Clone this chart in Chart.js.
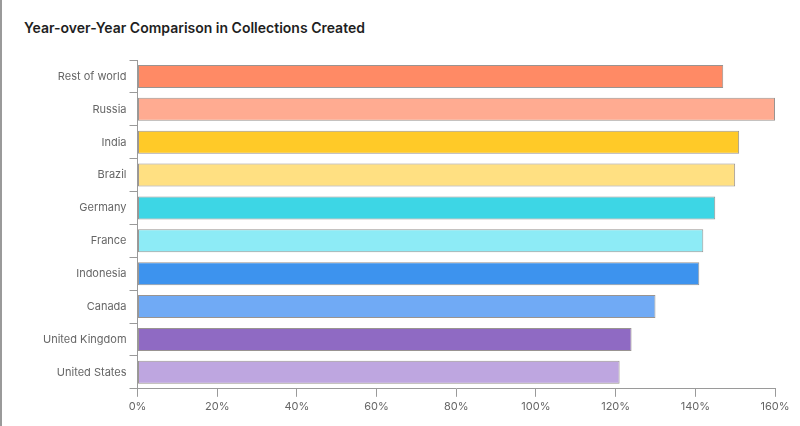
<!DOCTYPE html>
<html>
<head>
<meta charset="utf-8">
<script src="https://cdn.jsdelivr.net/npm/chart.js@4"></script>
<style>
    body { margin: 0; background: #fff; }
    .wrap { position: relative; width: 798px; height: 426px; border-left: 2px solid #9a9a9a; }
    .title { position: absolute; left: 22px; top: 19px; font: 600 14px Inter, sans-serif; color: #1f1f1f; }
    .box { position: absolute; left: 0; top: 48px; width: 798px; height: 376px; }
</style>
</head>
<body>
<div class="wrap">
    <div class="title">Year-over-Year Comparison in Collections Created</div>
    <div class="box"><canvas id="chart"></canvas></div>
</div>
<script>
const countries = ['Rest of world', 'Russia', 'India', 'Brazil', 'Germany', 'France', 'Indonesia', 'Canada', 'United Kingdom', 'United States'];
const growth = [147, 160, 151, 150, 145, 142, 141, 130, 124, 121];
const barColors = ['#FF8A65', '#FFAB91', '#FFCA28', '#FFE082', '#3DD6E5', '#8DEBF6', '#3D93EE', '#70AAF5', '#8F6AC3', '#BEA6E0'];
const xTicks = [0, 20, 40, 60, 80, 100, 120, 140, 160];

const ctx = document.getElementById('chart').getContext('2d');
new Chart(ctx, {
    type: 'bar',
    data: {
        labels: countries,
        datasets: [{
            data: growth,
            backgroundColor: barColors,
            borderColor: 'rgba(70, 60, 55, 0.55)',
            borderWidth: 1,
            borderSkipped: false,
            barPercentage: 0.7,
            categoryPercentage: 1
        }]
    },
    options: {
        indexAxis: 'y',
        responsive: true,
        maintainAspectRatio: false,
        animation: false,
        layout: { padding: { top: 12, right: 25, bottom: 8, left: 38 } },
        plugins: { legend: { display: false }, tooltip: { enabled: false } },
        scales: {
            x: {
                min: 0,
                max: 160,
                afterBuildTicks: axis => { axis.ticks = xTicks.map(v => ({ value: v })); },
                grid: { drawOnChartArea: false, tickLength: 8, color: '#9a9a9a' },
                border: { color: '#9a9a9a' },
                ticks: { color: '#666', font: { family: 'Inter', size: 11 }, padding: 3, callback: v => v + '%' }
            },
            y: {
                grid: { drawOnChartArea: false, tickLength: 8, color: '#9a9a9a' },
                border: { color: '#9a9a9a' },
                ticks: { color: '#666', font: { family: 'Inter', size: 11 }, padding: 3 }
            }
        }
    }
});
</script>
</body>
</html>
